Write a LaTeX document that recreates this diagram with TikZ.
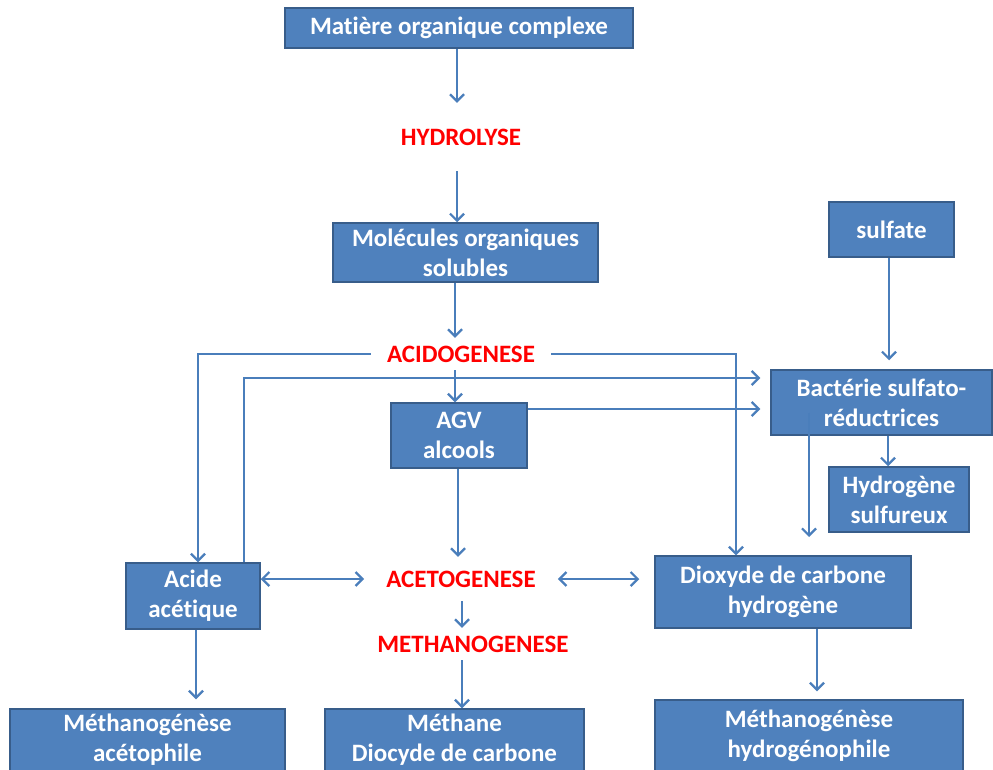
\documentclass[tikz,border=0pt]{standalone}
\usepackage{fontspec}
\setmainfont{Carlito}[Ligatures=NoCommon,Contextuals=NoAlternate]
\usetikzlibrary{arrows.meta}
\definecolor{bleuboite}{HTML}{4F81BD}
\definecolor{bordboite}{HTML}{385D8A}
\definecolor{bleufleche}{HTML}{4A7EBB}
\tikzset{
Boite/.style={
 draw=bordboite,
 fill=bleuboite,
 line width=1.5pt,
 text=white,
 font=\fontsize{25}{30}\selectfont\bfseries,
 align=center,
 inner sep=2pt
 },
Etape/.style={
 text=red,
 font=\fontsize{25}{30}\selectfont\bfseries,
 text height=16pt,
 text depth=0pt,
 inner xsep=16pt,
 inner ysep=8pt
 },
Fleche/.style={
 draw=bleufleche,
 line width=2.2pt,
 -{Straight Barb[length=7pt,width=14pt]}
 },
DoubleFleche/.style={
 draw=bleufleche,
 line width=2.2pt,
 {Straight Barb[length=7pt,width=14pt]}-{Straight Barb[length=7pt,width=14pt]}
 }
}
\begin{document}
\begin{tikzpicture}[x=1pt,y=-1pt]
\clip (0,0) rectangle (993,769);
\node[Boite,minimum width=348pt,minimum height=40pt] (matiere) at (459,28) {Matière organique complexe};
\node[Etape,inner ysep=26pt] (hydrolyse) at (461,137) {HYDROLYSE};
\node[Boite,minimum width=265pt,minimum height=59pt] (molecules) at (465.5,252.5) {Molécules organiques\\solubles};
\node[Boite,minimum width=125pt,minimum height=55pt] (sulfate) at (891.5,229.5) {sulfate};
\node[Etape] (acidogenese) at (461,354) {ACIDOGENESE};
\node[Boite,minimum width=221pt,minimum height=65pt] (bacterie) at (881.5,402.5) {Bactérie sulfato-\\réductrices};
\node[Boite,minimum width=136pt,minimum height=65pt] (agv) at (459,435.5) {AGV\\alcools};
\node[Boite,minimum width=140pt,minimum height=65pt] (hydrogene) at (899,499.5) {Hydrogène\\sulfureux};
\node[Boite,minimum width=134pt,minimum height=66pt] (acide) at (193,596) {Acide\\acétique};
\node[Etape,inner xsep=22pt,inner ysep=14pt] (acetogenese) at (461,579) {ACETOGENESE};
\node[Boite,minimum width=256pt,minimum height=72pt] (dioxyde) at (783,592) {Dioxyde de carbone\\hydrogène};
\node[Etape] (methanogenese) at (473,644) {METHANOGENESE};
\node[Boite,minimum width=275pt,minimum height=62pt] (acetophile) at (147.5,740) {Méthanogénèse\\acétophile};
\node[Boite,minimum width=259pt,minimum height=62pt] (methane) at (454.5,740) {Méthane\\Diocyde de carbone};
\node[Boite,minimum width=308pt,minimum height=72pt] (hydrogenophile) at (809,736) {Méthanogénèse\\hydrogénophile};
\coordinate (finsulfato) at (809,537);

\draw[Fleche] ([xshift=-2pt]matiere.south) -- ([xshift=-2pt]matiere.south |- hydrolyse.north);
\draw[Fleche] ([xshift=-4pt]hydrolyse.south) -- ([xshift=-4pt]hydrolyse.south |- molecules.north);
\draw[Fleche] ([xshift=-6pt]acidogenese.north |- molecules.south) -- ([xshift=-6pt]acidogenese.north);
\draw[Fleche] (acidogenese.west) -| ([xshift=5pt]acide.north);
\draw[Fleche] (acidogenese.east) -| ([xshift=-47pt]dioxyde.north);
\draw[Fleche,shorten >=10pt] ([xshift=51pt]acide.north) |- ([yshift=24.5pt]bacterie.west);
\draw[Fleche] ([xshift=-6pt]acidogenese.south) -- ([xshift=-6pt]acidogenese.south |- agv.north);
\draw[Fleche,shorten >=10pt] ([yshift=26.5pt]agv.east) -- ([yshift=26.5pt]agv.east -| bacterie.west);
\draw[Fleche] ([xshift=-72.5pt,yshift=23pt]bacterie.south) -- (finsulfato);
\draw[Fleche] ([xshift=6.5pt]bacterie.south) -- ([xshift=6.5pt]bacterie.south |- hydrogene.north);
\draw[Fleche,shorten >=9pt] ([xshift=-2.5pt]sulfate.south) -- ([xshift=-2.5pt]sulfate.south |- bacterie.north);
\draw[Fleche] ([xshift=-1pt]agv.south) -- ([xshift=-1pt]agv.south |- acetogenese.north);
\draw[DoubleFleche] (acide.east |- acetogenese.west) -- (acetogenese.west);
\draw[DoubleFleche,shorten >=15pt] (acetogenese.east) -- (acetogenese.east -| dioxyde.west);
\draw[Fleche] ([xshift=1pt]acetogenese.south) -- ([xshift=1pt]acetogenese.south |- methanogenese.north);
\draw[Fleche] ([xshift=1pt]acetogenese.south |- methanogenese.south) -- ([xshift=1pt]acetogenese.south |- methane.north);
\draw[Fleche,shorten >=9pt] ([xshift=3pt]acide.south) -- ([xshift=3pt]acide.south |- acetophile.north);
\draw[Fleche,shorten >=8pt] ([xshift=34pt]dioxyde.south) -- ([xshift=34pt]dioxyde.south |- hydrogenophile.north);
\end{tikzpicture}
\end{document}
